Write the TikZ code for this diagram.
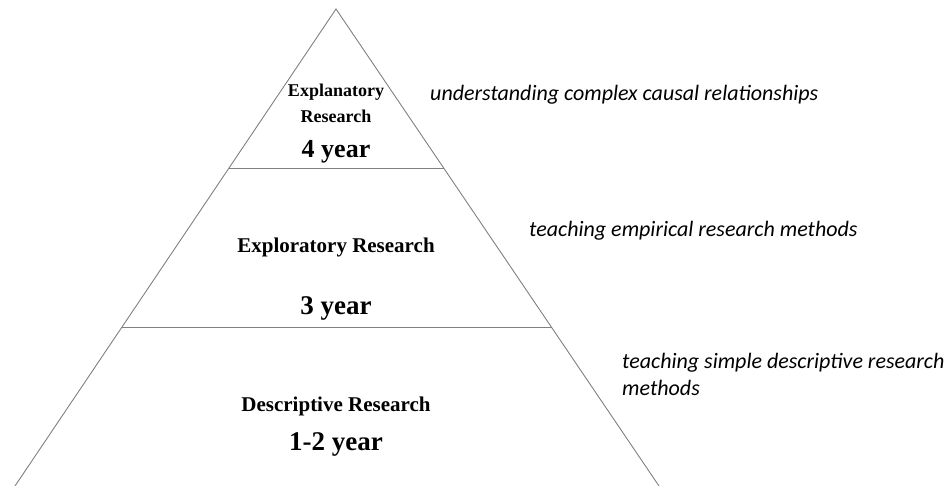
\documentclass[tikz,border=0pt]{standalone}
\usepackage{fontspec}
\setmainfont{Liberation Serif}
\newfontfamily\notefont{Carlito}
\usetikzlibrary{positioning}

\begin{document}
\begin{tikzpicture} [x=1pt, y=-1pt,
        level/.style = {font=\bfseries\fontsize{21}{26}\selectfont, align=center, inner sep=0pt},
        years/.style = {font=\bfseries\fontsize{27}{30}\selectfont, inner sep=0pt},
        note/.style = {font=\notefont\itshape\fontsize{22}{27}\selectfont, anchor=west, align=left, inner sep=0pt},
        edge/.style = {draw=gray, line width=0.9pt}]
        \useasboundingbox (0,0) rectangle (949,486);

        %Ecken
        \coordinate (top) at (336,9);
        \coordinate (l1) at (229,168);
        \coordinate (r1) at (444,168);
        \coordinate (l2) at (122,327);
        \coordinate (r2) at (552,327);
        \coordinate (l3) at (15,486);
        \coordinate (r3) at (659,486);

        %Stufen
        \node[level, font=\bfseries\fontsize{18}{26}\selectfont] (expl) at (336,103) {Explanatory\\Research};
        \node[years, font=\bfseries\fontsize{26}{30}\selectfont] (y4) at (336,152) {4 year};

        \node[level] (explo) at (336,247) {Exploratory Research};
        \node[years] (y3) at (336,308) {3 year};

        \node[level] (desc) at (336,406) {Descriptive Research};
        \node[years] (y12) at (336,444) {1-2 year};

        %Notizen
        \node[note] (n1) at (430,95) {understanding complex causal relationships};
        \node[note] (n2) at (529,231) {teaching empirical research methods};
        \node[note] (n3) at (622,374.5) {teaching simple descriptive research\\methods};

        %Kanten
        \draw[edge] (l3) -- (top) -- (r3);
        \draw[edge] (l1) -- (r1);
        \draw[edge] (l2) -- (r2);

    \end{tikzpicture}
\end{document}
